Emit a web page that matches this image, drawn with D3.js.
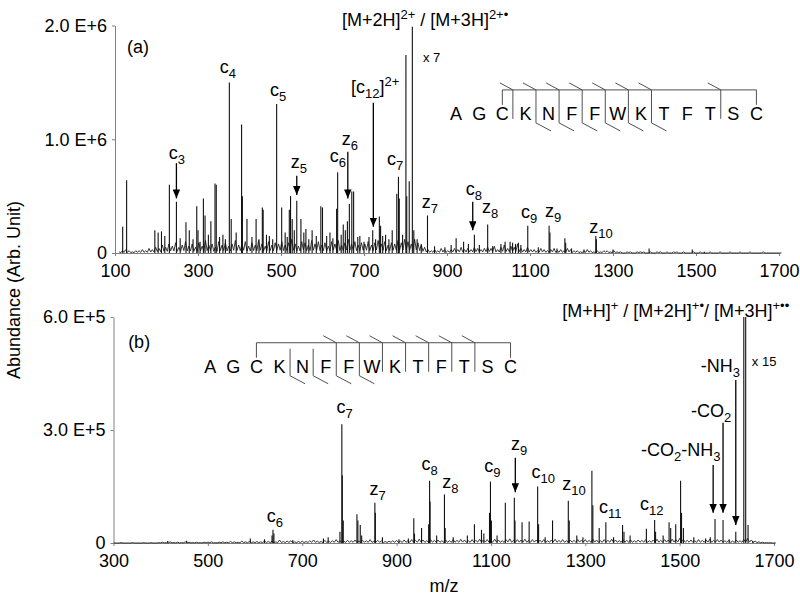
<!DOCTYPE html>
<html>
<head>
<meta charset="utf-8">
<script src="https://cdn.jsdelivr.net/npm/d3@7"></script>
<style>
  body { margin: 0; background: #fff; }
  svg text { font-family: "Liberation Sans", Arial, Helvetica, sans-serif; fill: #000; }
  .axis path, .axis line { stroke: #808080; }
  .axis text { font-size: 18px; }
</style>
</head>
<body>
<svg id="chart" width="800" height="600"></svg>
<script>
// ---- panel (a) : ECD spectrum, intensities in units of 1E6 ----
const ticksXA = [100, 300, 500, 700, 900, 1100, 1300, 1500, 1700];
const ticksYA = [0, 1, 2];
const peaksA = [
  [118.5, 0.23], [128, 0.64], [196, 0.20], [204, 0.18], [212, 0.19], [220, 0.15], [231, 0.60], [248, 0.45],
  [257, 0.13], [271, 0.27], [279, 0.20], [288, 0.12], [297, 0.41], [300, 0.20], [305, 0.10], [313, 0.48],
  [317, 0.33], [325, 0.16], [331, 0.28], [341, 0.61], [344, 0.60], [352, 0.14], [360, 0.16], [366, 0.12],
  [375.5, 1.50], [380, 0.30], [392, 0.18], [405, 1.13], [407, 0.50], [418, 0.30], [430, 0.14], [440, 0.30],
  [447, 0.12], [455, 0.40], [457, 0.38], [465, 0.16], [472, 0.15], [480, 0.12], [489.5, 1.31], [501.6, 0.40],
  [510, 0.18], [515, 0.14], [520, 0.38], [523, 0.50], [527, 0.30], [532, 0.20], [538, 0.46], [548, 0.30],
  [555, 0.18], [560, 0.21], [567, 0.12], [575, 0.20], [585, 0.15], [596, 0.41], [600, 0.40], [610, 0.15],
  [618, 0.18], [625, 0.13], [634, 0.39], [636.5, 0.71], [645, 0.16], [650, 0.25], [655, 0.20], [660, 0.28],
  [664.7, 0.43], [670.6, 0.54], [675, 0.54], [685, 0.14], [690, 0.15], [700, 0.10], [712, 0.14], [721, 0.20],
  [728, 0.12], [737, 0.32], [740, 0.24], [745, 0.15], [752, 0.16], [760, 0.12], [768, 0.20], [779, 0.52],
  [783, 0.67], [785, 0.48], [793, 0.16], [801, 1.74], [803, 0.50], [809, 0.63], [816.5, 1.99], [820, 0.20],
  [828, 0.12], [838, 0.08], [853, 0.33], [870, 0.06], [895, 0.05], [910, 0.07], [922, 0.13], [940, 0.10],
  [951.6, 0.08], [966, 0.16], [978, 0.07], [998, 0.25], [1010, 0.06], [1030, 0.08], [1040, 0.10],
  [1052, 0.10], [1058, 0.09], [1065, 0.08], [1072, 0.09], [1078, 0.07], [1094.6, 0.24], [1120, 0.05],
  [1146, 0.24], [1148, 0.18], [1165, 0.04], [1184, 0.13], [1186, 0.09], [1200, 0.04], [1230, 0.03],
  [1258.5, 0.15], [1260, 0.12], [1300, 0.03], [1387, 0.04], [1491, 0.03], [1520, 0.01]
];
// baseline noise, one value every 8 m/z from 110, units of 1E4
const noiseStartA = 110, noiseStepA = 8;
const noiseA = [
  1,2,3,2,1,2, 2,3,2,4,3,5, 4,7,5,8,6,9,5,7,10,6,8,5,
  9,6,11,7,8,5,10,7,9,6,8,11,7, 8,10,6,9,7,11,8,6,10,7,9,8,
  10,7,9,12,8,6,10,9,7,11,8,10,7, 9,6,10,8,11,7,9,12,8,10,7,9,
  8,10,7,9,11,8,10,7,9,8,11,9,12, 10,8,12,9,7,5,
  3,2,3,2,4,3,2,3,4,3,5,3,4,3,5,4,3,4,5,
  4,6,3,5,7,4,6,5,8,4,3,5,3, 3,2,4,3,2,3,4,2,3,2,4,3,2, 2,1,2,3,2,1,2,1,2,2,1,2,
  1,1,0,1,1,0,1,1,1,0, 1,0,1,1,0,1,0,1,1,0, 1,0,0,1,0,1,0,0,1,0, 0,1,0,0,1,0,0,1,0,0, 1,0,0,0,1,0,0,0,0,0
];
const labelsA = [
  { t: "c_{3}", mz: 249, v: 0.83 }, { t: "c_{4}", mz: 372, v: 1.58 }, { t: "c_{5}", mz: 493, v: 1.38 },
  { t: "z_{5}", mz: 543, v: 0.75 }, { t: "c_{6}", mz: 637, v: 0.80 }, { t: "z_{6}", mz: 666, v: 0.95 },
  { t: "[c_{12}]^{2+}", mz: 727, v: 1.41 }, { t: "c_{7}", mz: 775, v: 0.77 }, { t: "z_{7}", mz: 859, v: 0.40 },
  { t: "c_{8}", mz: 965, v: 0.51 }, { t: "z_{8}", mz: 1004, v: 0.35 }, { t: "c_{9}", mz: 1098, v: 0.31 },
  { t: "z_{9}", mz: 1156, v: 0.32 }, { t: "z_{10}", mz: 1271, v: 0.18 },
  { t: "[M+2H]^{2+} / [M+3H]^{2+•}", mz: 647, v: 2.06, anchor: "start" },
  { t: "(a)", mz: 129, v: 1.76, anchor: "start" }
];
const arrowsA = [[248, 0.79, 0.48], [538, 0.68, 0.51], [661, 0.89, 0.48], [722.5, 1.32, 0.23], [962, 0.45, 0.20]];

// ---- panel (b) : intensities in units of 1E5 ----
const ticksXB = [300, 500, 700, 900, 1100, 1300, 1500, 1700];
const ticksYB = [0, 3, 6];
const peaksB = [
  [415, 0.05], [455, 0.06], [590, 0.12], [620, 0.10], [636, 0.20], [638, 0.35], [640, 0.25], [680, 0.08],
  [745, 0.12], [755, 0.15], [780, 0.30], [784, 3.15], [785, 1.80], [787, 0.60], [816, 0.76], [818, 0.60],
  [823, 0.48], [826, 0.20], [854, 1.07], [855, 0.80], [870, 0.15], [905, 0.10], [925, 0.12], [936.5, 0.66],
  [938, 0.25], [953, 0.40], [968, 0.50], [970, 1.65], [971, 1.10], [985, 0.20], [1001.5, 1.29], [1003, 0.40],
  [1020, 0.15], [1050, 0.20], [1065, 0.50], [1080, 0.35], [1085, 0.25], [1097, 0.80], [1099, 1.63],
  [1101, 0.60], [1113, 0.20], [1130.5, 1.07], [1149.6, 1.20], [1151, 0.60], [1166, 0.55], [1181, 0.57],
  [1199, 1.50], [1201, 0.50], [1215, 0.15], [1230.6, 0.60], [1264, 1.12], [1266, 0.60], [1282, 0.20],
  [1295, 0.15], [1314, 1.92], [1316, 1.00], [1329.5, 0.40], [1343.6, 0.55], [1360, 0.15], [1379, 0.48],
  [1382, 0.30], [1395, 0.20], [1429.5, 0.38], [1447, 0.61], [1449, 0.30], [1465, 0.20], [1477.6, 0.55],
  [1481, 0.40], [1491.7, 0.50], [1502, 1.65], [1504, 0.80], [1508, 0.40], [1530, 0.15], [1555, 0.12],
  [1565, 0.15], [1575, 0.64], [1592, 0.61], [1605, 0.10], [1619, 0.30], [1636, 6.0], [1640, 6.0],
  [1645, 0.48], [1655, 0.05]
];
// baseline noise every 8 m/z from 300, units of 1E3
const noiseStartB = 300, noiseStepB = 8;
const noiseB = [
  0,0,1,0,0,1,0,0,1,0,1,0,1, 2,1,3,1,2,1,3,2,1,2,1,2, 2,3,1,2,3,2,4,3,2,5,3,4,3,
  4,3,6,4,5,3,8,4,5,6,3,4, 5,4,6,8,5,4,7,5,6,9,6,5,7, 6,8,5,7,6,9,5,7,6,4,5,6,
  7,5,8,6,9,7,10,8,6,9,7,8,6, 8,6,9,7,10,8,6,9,7,10,8,9, 7,10,8,6,9,11,7,9,8,10,7,9,8,
  7,9,6,8,10,7,9,6,8,7,9,8, 9,7,10,8,6,9,7,10,8,6,9,7,8, 6,8,7,9,6,8,10,7,9,8,10,9,
  12,9,7,8,6,9,7,8,10,7,9,8,6, 7,5,8,6,9,12,8,5,3,2,1,1, 0
];
const labelsB = [
  { t: "c_{6}", mz: 642, v: 0.56 }, { t: "c_{7}", mz: 790, v: 3.45 }, { t: "z_{7}", mz: 860, v: 1.27 },
  { t: "c_{8}", mz: 970, v: 1.94 }, { t: "z_{8}", mz: 1014, v: 1.46 }, { t: "c_{9}", mz: 1103, v: 1.88 },
  { t: "z_{9}", mz: 1160, v: 2.47 }, { t: "c_{10}", mz: 1211, v: 1.73 }, { t: "z_{10}", mz: 1276, v: 1.41 },
  { t: "c_{11}", mz: 1353, v: 0.80 }, { t: "c_{12}", mz: 1441, v: 0.88 },
  { t: "-CO_{2}-NH_{3}", mz: 1418, v: 2.31, anchor: "start" },
  { t: "-CO_{2}", mz: 1524, v: 3.35, anchor: "start" },
  { t: "-NH_{3}", mz: 1545, v: 4.54, anchor: "start" },
  { t: "[M+H]^{+} / [M+2H]^{+•}/ [M+3H]^{+••}", mz: 1251, v: 6.37, anchor: "start" },
  { t: "(b)", mz: 331, v: 5.18, anchor: "start" }
];
const arrowsB = [[1151.7, 2.26, 1.35], [1571, 2.07, 0.80], [1592, 3.19, 0.80], [1619, 4.33, 0.48]];

// peptide sequence and observed cleavages (after residue n)
const sequence = ["A", "G", "C", "K", "N", "F", "F", "W", "K", "T", "F", "T", "S", "C"];
const cutsA = { c: [3, 4, 5, 6, 7, 8, 9, 12], z: [4, 5, 6, 7, 8, 9] };
const cutsB = { c: [6, 7, 8, 9, 10, 11, 12], z: [4, 5, 6, 7] };

const svg = d3.select("#chart");
const defs = svg.append("defs");
defs.append("marker")
  .attr("id", "head")
  .attr("viewBox", "0 0 12 10")
  .attr("refX", 12).attr("refY", 5)
  .attr("markerWidth", 9).attr("markerHeight", 7.5)
  .attr("markerUnits", "userSpaceOnUse")
  .attr("orient", "auto")
  .append("path").attr("d", "M0,0L12,5L0,10z").attr("fill", "#000");

// small markup: _{sub} and ^{sup}
function richText(g, str, x, y, size, anchor) {
  const t = g.append("text")
    .attr("x", x).attr("y", y)
    .attr("font-size", size)
    .attr("text-anchor", anchor || "middle");
  let shift = 0;
  const re = /([_^])\{([^}]*)\}|([^_^]+)/g;
  let m;
  while ((m = re.exec(str)) !== null) {
    const kind = m[1], txt = m[1] ? m[2] : m[3];
    const target = kind === "_" ? 5 : kind === "^" ? -7 : 0;
    t.append("tspan")
      .attr("dy", target - shift)
      .attr("font-size", kind ? Math.round(size * 0.7) : size)
      .text(txt);
    shift = target;
  }
  return t;
}

function drawSequence(g, x0, yb, cuts) {
  const step = 23.1, top = yb - 30;
  const gx = i => x0 + i * step;
  g.selectAll("text.res").data(sequence).enter()
    .append("text").attr("class", "res")
    .attr("x", (d, i) => gx(i)).attr("y", yb)
    .attr("text-anchor", "middle").attr("font-size", 18)
    .text(d => d);
  const ln = g.append("g").attr("stroke", "#505050").attr("stroke-width", 1).attr("fill", "none");
  // bracket linking C3 and C14
  ln.append("path").attr("d",
    `M${gx(2)},${yb - 15}V${top}H${gx(13)}V${yb - 15}`);
  const all = Array.from(new Set(cuts.c.concat(cuts.z)));
  all.forEach(n => {
    const x = gx(n - 0.5) - 1;
    const hasC = cuts.c.includes(n), hasZ = cuts.z.includes(n);
    const y1 = hasC ? top : top + 6;
    const y2 = hasZ ? yb + 3 : yb - 1;
    ln.append("line").attr("x1", x).attr("x2", x).attr("y1", y1).attr("y2", y2);
    if (hasC) ln.append("line").attr("x1", x - 13).attr("y1", top - 7).attr("x2", x).attr("y2", top);
    if (hasZ) ln.append("line").attr("x1", x).attr("y1", yb + 3).attr("x2", x + 15).attr("y2", yb + 11);
  });
}

function panel(cfg) {
  const g = svg.append("g");
  const x = d3.scaleLinear().domain(cfg.xDomain).range(cfg.xRange);
  const y = d3.scaleLinear().domain(cfg.yDomain).range(cfg.yRange).clamp(true);

  g.append("g").attr("class", "axis")
    .attr("transform", `translate(0,${cfg.yRange[0]})`)
    .call(d3.axisBottom(x).tickValues(cfg.ticksX).tickSize(3).tickSizeOuter(0).tickPadding(8).tickFormat(d3.format("d")))
    .call(a => a.selectAll("text").attr("fill", "#000"));
  g.append("g").attr("class", "axis")
    .attr("transform", `translate(${cfg.xRange[0]},0)`)
    .call(d3.axisLeft(y).tickValues(cfg.ticksY).tickSize(3).tickSizeOuter(0).tickPadding(5)
      .tickFormat(d => d === 0 ? "0" : d.toFixed(1) + " " + cfg.exp))
    .call(a => a.selectAll("text").attr("fill", "#000"));

  // noisy baseline, drawn as a jagged trace: each sample, then a dip before the next one
  const pts = [];
  cfg.noise.forEach((v, i) => {
    const m = cfg.noiseStart + i * cfg.noiseStep;
    const next = i + 1 < cfg.noise.length ? cfg.noise[i + 1] : v;
    pts.push([m, v * cfg.noiseScale]);
    pts.push([m + cfg.noiseStep / 2, 0.3 * Math.min(v, next) * cfg.noiseScale]);
  });
  g.append("path")
    .datum(pts)
    .attr("fill", "none").attr("stroke", "#222").attr("stroke-width", 0.9)
    .attr("d", d3.line().x(d => x(d[0])).y(d => y(d[1])));

  // peaks as sticks
  g.append("g").selectAll("line").data(cfg.peaks).enter()
    .append("line")
    .attr("x1", d => x(d[0])).attr("x2", d => x(d[0]))
    .attr("y1", y(0)).attr("y2", d => y(d[1]))
    .attr("stroke", "#111").attr("stroke-width", 1.1);

  g.append("g").selectAll("line").data(cfg.arrows).enter()
    .append("line")
    .attr("x1", d => x(d[0])).attr("x2", d => x(d[0]))
    .attr("y1", d => y(d[1])).attr("y2", d => y(d[2]))
    .attr("stroke", "#000").attr("stroke-width", 1.3)
    .attr("marker-end", "url(#head)");

  cfg.labels.forEach(l => richText(g, l.t, x(l.mz), y(l.v), 18, l.anchor));

  richText(g, cfg.scaleNote.t, x(cfg.scaleNote.mz), y(cfg.scaleNote.v), 13, "start");
  drawSequence(g.append("g"), x(cfg.seqAt.mz), y(cfg.seqAt.v), cfg.cuts);
}

panel({
  xDomain: [100, 1700], xRange: [115, 779],
  yDomain: [0, 2], yRange: [253, 25.5],
  ticksX: ticksXA, ticksY: ticksYA, exp: "E+6",
  peaks: peaksA, noise: noiseA, noiseStart: noiseStartA, noiseStep: noiseStepA, noiseScale: 0.01,
  labels: labelsA, arrows: arrowsA,
  scaleNote: { t: "x 7", mz: 842, v: 1.68 },
  seqAt: { mz: 922, v: 1.17 }, cuts: cutsA
});

panel({
  xDomain: [300, 1700], xRange: [113.5, 774],
  yDomain: [0, 6], yRange: [543, 317],
  ticksX: ticksXB, ticksY: ticksYB, exp: "E+5",
  peaks: peaksB, noise: noiseB, noiseStart: noiseStartB, noiseStep: noiseStepB, noiseScale: 0.01,
  labels: labelsB, arrows: arrowsB,
  scaleNote: { t: "x 15", mz: 1653, v: 4.70 },
  seqAt: { mz: 505, v: 4.52 }, cuts: cutsB
});

// axis titles
svg.append("text")
  .attr("transform", "translate(20,290) rotate(-90)")
  .attr("text-anchor", "middle").attr("font-size", 18)
  .text("Abundance (Arb. Unit)");
svg.append("text")
  .attr("x", 444).attr("y", 592)
  .attr("text-anchor", "middle").attr("font-size", 18)
  .text("m/z");
</script>
</body>
</html>
